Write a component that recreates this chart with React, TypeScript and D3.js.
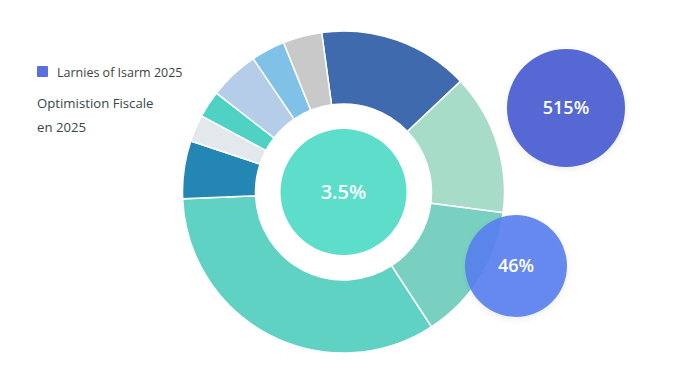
import React from 'react';
import * as d3 from 'd3';

// Donut slices, clockwise starting from the dark-blue slice
const sliceNames = ['S1', 'S2', 'S3', 'S4', 'S5', 'S6', 'S7', 'S8', 'S9', 'S10'];
const sliceValues = [15.1, 14.1, 13.75, 33.5, 5.8, 2.7, 2.7, 5.0, 3.4, 3.9];
const centerLabel = '3.5%';
const bubbleLabels = ['515%', '46%'];
const legendLabels = ['Larnies of Isarm 2025'];
const titleLines = ['Optimistion Fiscale', 'en 2025'];

const palette = [
  '#3f6aae', '#a7dcc8', '#79d0c1', '#60d2c4', '#2486b4',
  '#e3e8ed', '#4fd2c4', '#b6cdea', '#80c2e7', '#c9c9c9',
];

const W = 678;
const H = 381;

export default function App() {
  const cx = 343.5;
  const cy = 192;
  const outerR = 161;
  const innerR = 88;
  const startDeg = -7.8;

  const pie = d3
    .pie<number>()
    .sort(null)
    .value((d) => d)
    .startAngle((startDeg * Math.PI) / 180)
    .endAngle(((startDeg + 360) * Math.PI) / 180);
  const arcs = pie(sliceValues);
  const arc = d3.arc<d3.PieArcDatum<number>>().innerRadius(innerR).outerRadius(outerR);

  const font = "'Open Sans', 'Noto Sans', sans-serif";

  return (
    <svg
      width={W}
      height={H}
      style={{ position: 'absolute', left: 0, top: 0, background: '#ffffff' }}
      fontFamily={font}
    >
      <defs>
        <filter id="sh" x="-30%" y="-30%" width="160%" height="160%">
          <feDropShadow dx="0" dy="2" stdDeviation="3" floodColor="#000" floodOpacity="0.08" />
        </filter>
      </defs>
      <rect x={0} y={0} width={W} height={H} fill="#ffffff" />

      {/* legend */}
      <rect x={37} y={66} width={11} height={11} fill="#5a6ee0" rx={1} />
      <text x={57} y={76.5} fontSize={12.5} fill="#3b3f45">
        {legendLabels[0]}
      </text>
      {titleLines.map((t, i) => (
        <text key={t} x={37} y={108 + i * 24} fontSize={13.2} fill="#37474a">
          {t}
        </text>
      ))}

      {/* donut */}
      <g transform={`translate(${cx},${cy})`}>
        {arcs.map((a, i) => (
          <path
            key={sliceNames[i]}
            d={arc(a) || ''}
            fill={palette[i]}
            stroke="#ffffff"
            strokeWidth={1.5}
          />
        ))}
        <circle r={63} fill="#5cdecb" />
        <text
          textAnchor="middle"
          dy="0.35em"
          fontSize={20}
          fontWeight={600}
          fill="#ffffff"
        >
          {centerLabel}
        </text>
      </g>

      {/* bubbles */}
      <g filter="url(#sh)">
        <circle cx={566} cy={108} r={59} fill="#5467d4" />
      </g>
      <text x={566} y={108} dy="0.35em" textAnchor="middle" fontSize={18} fontWeight={600} fill="#ffffff">
        {bubbleLabels[0]}
      </text>
      <g filter="url(#sh)">
        <circle cx={516} cy={266} r={51} fill="#587eee" fillOpacity={0.9} />
      </g>
      <text x={516} y={266} dy="0.35em" textAnchor="middle" fontSize={18} fontWeight={600} fill="#ffffff">
        {bubbleLabels[1]}
      </text>
    </svg>
  );
}
